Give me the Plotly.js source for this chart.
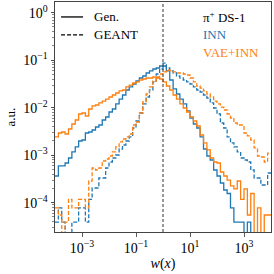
<!DOCTYPE html>
<html>
<head>
<meta charset="utf-8">
<script src="https://cdn.plot.ly/plotly-3.0.1.min.js"></script>
<style>html,body{margin:0;padding:0;background:#fff;}#chart{width:274px;height:274px;}</style>
</head>
<body>
<div id="chart"></div>
<script>
// histogram binning: log10(w) from -4 to 4, 64 bins
const logMin = -4, logMax = 4, nBins = 64;

// INN, generated (solid blue)
const innGen = [3.65e-4,5.93e-4,5.93e-4,6.85e-4,8.73e-4,1.17e-3,1.49e-3,1.99e-3,2.09e-3,2.93e-3,
  3.08e-3,3.39e-3,3.92e-3,4.32e-3,5.50e-3,6.37e-3,8.12e-3,9.39e-3,1.20e-2,1.52e-2,
  1.85e-2,2.36e-2,2.73e-2,3.15e-2,3.65e-2,4.22e-2,4.65e-2,5.38e-2,5.93e-2,6.53e-2,
  6.85e-2,7.55e-2,7.55e-2,5.93e-2,3.83e-2,2.48e-2,1.94e-2,1.52e-2,1.20e-2,8.53e-3,
  6.07e-3,4.54e-3,3.74e-3,2.42e-3,1.35e-3,9.62e-4,7.92e-4,4.88e-4,3.65e-4,2.60e-4,
  1.85e-4,1.56e-4,7.8e-5,3.9e-5,3.9e-5,3.9e-5,0,3.9e-5,0,0,
  0,0,0,0];

// INN, GEANT (dashed blue)
const innGeant = [3.9e-5,7.8e-5,3.9e-5,0,0,3.9e-5,3.9e-5,7.8e-5,7.8e-5,3.9e-5,
  1.17e-4,2.04e-4,2.04e-4,3.31e-4,3.31e-4,5.38e-4,7.19e-4,8.73e-4,1.01e-3,1.35e-3,
  1.64e-3,1.99e-3,2.42e-3,3.74e-3,5.24e-3,7.73e-3,1.20e-2,1.68e-2,2.36e-2,3.48e-2,
  5.12e-2,6.53e-2,8.7e-2,6.85e-2,5.93e-2,5.38e-2,4.65e-2,4.22e-2,3.83e-2,3.48e-2,
  3.15e-2,2.73e-2,2.36e-2,2.14e-2,1.85e-2,1.60e-2,1.26e-2,9.86e-3,7.36e-3,4.76e-3,
  3.74e-3,2.42e-3,1.81e-3,1.49e-3,1.17e-3,8.73e-4,7.92e-4,7.19e-4,4.88e-4,3.31e-4,
  3.31e-4,2.36e-4,2.36e-4,4.22e-4];

// VAE+INN, generated (solid orange)
const vaeGen = [2.42e-3,2.93e-3,3.08e-3,2.79e-3,3.56e-3,4.54e-3,5.50e-3,7.36e-3,7.73e-3,6.68e-3,
  9.39e-3,1.09e-2,1.14e-2,1.26e-2,1.38e-2,1.52e-2,1.68e-2,1.85e-2,2.04e-2,2.25e-2,
  2.36e-2,2.73e-2,3.0e-2,3.31e-2,3.48e-2,3.83e-2,4.02e-2,4.22e-2,4.22e-2,4.43e-2,
  4.22e-2,4.02e-2,3.48e-2,2.86e-2,2.36e-2,1.85e-2,1.52e-2,1.20e-2,9.86e-3,8.12e-3,
  6.37e-3,5.24e-3,4.12e-3,2.66e-3,1.81e-3,1.29e-3,8.73e-4,7.19e-4,6.85e-4,4.43e-4,
  3.65e-4,3.0e-4,2.25e-4,1.95e-4,2.86e-4,1.17e-4,1.95e-4,5.5e-5,1.56e-4,0,
  7.8e-5,0,5.5e-5,5.5e-5];

// VAE+INN, GEANT (dashed orange)
const vaeGeant = [7.8e-5,5.5e-5,0,3.9e-5,1.17e-4,7.8e-5,7.8e-5,1.17e-4,1.17e-4,7.8e-5,
  2.86e-4,5.38e-4,4.88e-4,5.38e-4,7.55e-4,8.32e-4,9.62e-4,1.17e-3,1.49e-3,1.90e-3,
  2.19e-3,2.42e-3,2.79e-3,4.32e-3,5.0e-3,7.73e-3,1.32e-2,1.94e-2,2.73e-2,3.65e-2,
  4.43e-2,5.12e-2,5.65e-2,6.22e-2,5.93e-2,5.65e-2,5.38e-2,5.38e-2,5.12e-2,4.88e-2,
  4.22e-2,3.48e-2,2.86e-2,2.60e-2,2.25e-2,1.94e-2,1.68e-2,1.38e-2,1.20e-2,1.03e-2,
  8.95e-3,7.36e-3,6.07e-3,4.76e-3,4.32e-3,4.32e-3,2.93e-3,2.54e-3,2.09e-3,1.42e-3,
  9.62e-4,9.16e-4,7.19e-4,1.11e-3];

const xTickVals = [1e-3, 1e-1, 1e1, 1e3];
const xTickText = ['10<sup>−3</sup>', '10<sup>−1</sup>', '10<sup>1</sup>', '10<sup>3</sup>'];
const yTickVals = [1, 1e-1, 1e-2, 1e-3, 1e-4];
const yTickText = ['10<sup>0</sup>', '10<sup>−1</sup>', '10<sup>−2</sup>', '10<sup>−3</sup>', '10<sup>−4</sup>'];
const refLine = 1;

const BLUE = '#1f77b4', ORANGE = '#ff7f0e';
const FONT = 'Liberation Serif, Times New Roman, serif';

const edges = [];
for (let i = 0; i <= nBins; i++) edges.push(Math.pow(10, logMin + i * (logMax - logMin) / nBins));

function stepTrace(vals, color, dash) {
  const y = vals.map(v => v > 0 ? v : 1e-12);
  y.push(y[y.length - 1]);
  return {
    x: edges, y: y, type: 'scatter', mode: 'lines',
    line: {shape: 'hv', color: color, width: 1.3, dash: dash},
    hoverinfo: 'skip', showlegend: false
  };
}

const data = [
  stepTrace(innGen, BLUE, 'solid'),
  stepTrace(innGeant, BLUE, '4px,2px'),
  stepTrace(vaeGen, ORANGE, 'solid'),
  stepTrace(vaeGeant, ORANGE, '4px,2px')
];

const layout = {
  width: 274, height: 274,
  margin: {l: 55, r: 3, t: 2, b: 42},
  paper_bgcolor: '#fff', plot_bgcolor: '#fff',
  font: {family: FONT, size: 13, color: '#000'},
  xaxis: {
    type: 'log', range: [logMin, logMax],
    tickmode: 'array', tickvals: xTickVals, ticktext: xTickText,
    ticks: 'outside', ticklen: 3.5, tickwidth: 0.8, tickcolor: '#333',
    showgrid: false, zeroline: false,
    showline: true, linecolor: '#444', linewidth: 1, mirror: true,
    tickfont: {family: FONT, size: 14},
    title: {text: '<i>w</i>(<i>x</i>)', font: {family: FONT, size: 14}, standoff: 2}
  },
  yaxis: {
    type: 'log', range: [-4.617, 0.225],
    tickmode: 'array', tickvals: yTickVals, ticktext: yTickText,
    ticks: 'outside', ticklen: 3.5, tickwidth: 0.8, tickcolor: '#333',
    showgrid: false, zeroline: false,
    showline: true, linecolor: '#444', linewidth: 1, mirror: true,
    tickfont: {family: FONT, size: 14},
    minor: {ticks: 'outside', ticklen: 2, tickwidth: 0.6, tickcolor: '#333', dtick: 'D1', showgrid: false},
    title: {text: 'a.u.', font: {family: FONT, size: 13}, standoff: 4}
  },
  shapes: [
    {type: 'line', xref: 'x', yref: 'paper', x0: refLine, x1: refLine, y0: 0, y1: 1,
     line: {color: '#333', width: 1, dash: '3px,2px'}},
    {type: 'line', xref: 'paper', yref: 'paper', x0: 0.028, x1: 0.13, y0: 0.935, y1: 0.935,
     line: {color: '#000', width: 1.3}},
    {type: 'line', xref: 'paper', yref: 'paper', x0: 0.028, x1: 0.13, y0: 0.857, y1: 0.857,
     line: {color: '#000', width: 1.3, dash: '4px,2px'}}
  ],
  annotations: [
    {xref: 'paper', yref: 'paper', x: 0.17, y: 0.935, xanchor: 'left', yanchor: 'middle',
     text: 'Gen.', showarrow: false, font: {family: FONT, size: 13, color: '#000'}},
    {xref: 'paper', yref: 'paper', x: 0.17, y: 0.857, xanchor: 'left', yanchor: 'middle',
     text: 'GEANT', showarrow: false, font: {family: FONT, size: 13, color: '#000'}},
    {xref: 'paper', yref: 'paper', x: 0.675, y: 0.935, xanchor: 'left', yanchor: 'middle',
     text: 'π<sup>+</sup> DS-1', showarrow: false, font: {family: FONT, size: 13, color: '#000'}},
    {xref: 'paper', yref: 'paper', x: 0.675, y: 0.857, xanchor: 'left', yanchor: 'middle',
     text: 'INN', showarrow: false, font: {family: FONT, size: 13, color: BLUE}},
    {xref: 'paper', yref: 'paper', x: 0.675, y: 0.779, xanchor: 'left', yanchor: 'middle',
     text: 'VAE+INN', showarrow: false, font: {family: FONT, size: 13, color: ORANGE}}
  ]
};

Plotly.newPlot('chart', data, layout, {staticPlot: true, displayModeBar: false});
</script>
</body>
</html>
